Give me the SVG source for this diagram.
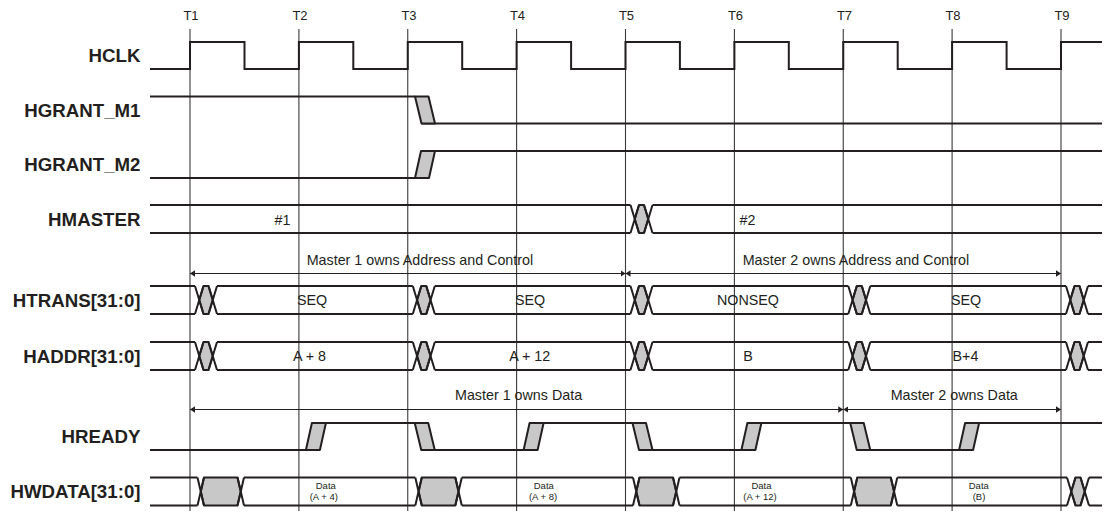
<svg xmlns="http://www.w3.org/2000/svg" xmlns:xlink="http://www.w3.org/1999/xlink" width="1109" height="514" viewBox="0 0 1109 514">
<style>
.bg{fill:#ffffff}
.grid{stroke:#3a3a3a;stroke-width:1.1;fill:none}
.sig{stroke:#231f20;stroke-width:2;fill:none;stroke-linejoin:miter}
.gr{fill:#c8c8c8;stroke:#231f20;stroke-width:2;stroke-linejoin:round}
.lbl{font-family:"Liberation Sans",Arial,sans-serif;font-weight:bold;font-size:18.7px;fill:#231f20;text-anchor:end}
.tl{font-family:"Liberation Sans",Arial,sans-serif;font-size:13px;fill:#231f20;text-anchor:middle}
.val{font-family:"Liberation Sans",Arial,sans-serif;font-size:14.3px;fill:#231f20;text-anchor:middle}
.ann{font-family:"Liberation Sans",Arial,sans-serif;font-size:14.3px;fill:#231f20}
.sm{font-family:"Liberation Sans",Arial,sans-serif;font-size:9.5px;fill:#231f20;text-anchor:middle}
.arr{stroke:#231f20;stroke-width:1.1;fill:none}
</style>
<defs>
<marker id="ah" markerUnits="userSpaceOnUse" markerWidth="6" markerHeight="7" refX="5" refY="3.25" orient="auto-start-reverse">
<path d="M0,0 L5,3.25 L0,6.5 z" fill="#231f20"/>
</marker>
<g id="xn">
<polygon class="gr" points="4.25,14 8.5,0 13.5,0 17.75,14 13.5,28 8.5,28"/>
<path class="sig" d="M0,0 L8.5,28 M0,28 L8.5,0 M13.5,0 L22,28 M13.5,28 L22,0"/>
</g>
<g id="xw">
<polygon class="gr" points="3.25,14 6.5,0 40,0 43.25,14 40,28 6.5,28"/>
<path class="sig" d="M0,0 L6.5,28 M0,28 L6.5,0 M40,0 L46.5,28 M40,28 L46.5,0"/>
</g>
<polygon id="rise" class="gr" points="7,27 21,27 27,0 13,0"/>
<polygon id="fall" class="gr" points="7,0 20.5,0 27,27 13.5,27"/>
</defs>
<rect class="bg" x="0" y="0" width="1109" height="514"/>

<g id="timeline">
<path class="grid" d="M190,29 V511 M298.9,29 V511 M407.75,29 V511 M516.6,29 V511 M625.5,29 V511 M734.4,29 V511 M843.25,29 V511 M952.1,29 V511 M1061,29 V511"/>
<text class="tl" x="191" y="20">T1</text>
<text class="tl" x="300" y="20">T2</text>
<text class="tl" x="409" y="20">T3</text>
<text class="tl" x="517.5" y="20">T4</text>
<text class="tl" x="626.5" y="20">T5</text>
<text class="tl" x="735.5" y="20">T6</text>
<text class="tl" x="844.5" y="20">T7</text>
<text class="tl" x="953" y="20">T8</text>
<text class="tl" x="1062" y="20">T9</text>
</g>

<g id="hclk">
<text class="lbl" x="140.5" y="62.2">HCLK</text>
<path class="sig" d="M150,69 H190 V42 H244.5 V69 H298.9 V42 H353.3 V69 H407.75 V42 H462.2 V69 H516.6 V42 H571.1 V69 H625.5 V42 H679.9 V69 H734.4 V42 H788.8 V69 H843.25 V42 H897.7 V69 H952.1 V42 H1006.6 V69 H1061 V42 H1102"/>
</g>

<g id="hgrant_m1">
<text class="lbl" x="140.5" y="116.7">HGRANT_M1</text>
<path class="sig" d="M150,96.5 H415 M421.5,123.5 H1102"/>
<use xlink:href="#fall" href="#fall" x="408" y="96.5"/>
</g>

<g id="hgrant_m2">
<text class="lbl" x="140.5" y="171.2">HGRANT_M2</text>
<path class="sig" d="M150,178 H415 M421,151 H1102"/>
<use xlink:href="#rise" href="#rise" x="408" y="151"/>
</g>

<g id="hmaster">
<text class="lbl" x="140.5" y="225.7">HMASTER</text>
<path class="sig" d="M150,205 H630.5 M150,233 H630.5 M652.5,205 H1102 M652.5,233 H1102"/>
<use xlink:href="#xn" href="#xn" x="630.5" y="205"/>
<text class="val" x="282.5" y="224.5">#1</text>
<text class="val" x="747.5" y="224.5">#2</text>
</g>

<g id="htrans">
<text class="lbl" x="140.5" y="306.7">HTRANS[31:0]</text>
<path class="sig" d="M150,286 H195 M217,286 H412.8 M434.8,286 H630.5 M652.5,286 H848.3 M870.3,286 H1066 M1088,286 H1102 M150,314 H195 M217,314 H412.8 M434.8,314 H630.5 M652.5,314 H848.3 M870.3,314 H1066 M1088,314 H1102"/>
<use xlink:href="#xn" href="#xn" x="195" y="286"/>
<use xlink:href="#xn" href="#xn" x="412.8" y="286"/>
<use xlink:href="#xn" href="#xn" x="630.5" y="286"/>
<use xlink:href="#xn" href="#xn" x="848.3" y="286"/>
<use xlink:href="#xn" href="#xn" x="1066" y="286"/>
<text class="val" x="312" y="305">SEQ</text>
<text class="val" x="530" y="305">SEQ</text>
<text class="val" x="748" y="305">NONSEQ</text>
<text class="val" x="966" y="305">SEQ</text>
</g>

<g id="haddr">
<text class="lbl" x="140.5" y="362.7">HADDR[31:0]</text>
<path class="sig" d="M150,342 H195 M217,342 H412.8 M434.8,342 H630.5 M652.5,342 H848.3 M870.3,342 H1066 M1088,342 H1102 M150,370 H195 M217,370 H412.8 M434.8,370 H630.5 M652.5,370 H848.3 M870.3,370 H1066 M1088,370 H1102"/>
<use xlink:href="#xn" href="#xn" x="195" y="342"/>
<use xlink:href="#xn" href="#xn" x="412.8" y="342"/>
<use xlink:href="#xn" href="#xn" x="630.5" y="342"/>
<use xlink:href="#xn" href="#xn" x="848.3" y="342"/>
<use xlink:href="#xn" href="#xn" x="1066" y="342"/>
<text class="val" x="309.5" y="361">A + 8</text>
<text class="val" x="529.7" y="361">A + 12</text>
<text class="val" x="748" y="361">B</text>
<text class="val" x="965.5" y="361">B+4</text>
</g>

<g id="hready">
<text class="lbl" x="140.5" y="443.2">HREADY</text>
<path class="sig" d="M150,450 H306 M312,423 H415 M421.5,450 H523.6 M529.6,423 H632.5 M639,450 H741.4 M747.4,423 H850.25 M856.75,450 H959.1 M965.1,423 H1102"/>
<use xlink:href="#rise" href="#rise" x="298.9" y="423"/>
<use xlink:href="#fall" href="#fall" x="407.75" y="423"/>
<use xlink:href="#rise" href="#rise" x="516.6" y="423"/>
<use xlink:href="#fall" href="#fall" x="625.5" y="423"/>
<use xlink:href="#rise" href="#rise" x="734.4" y="423"/>
<use xlink:href="#fall" href="#fall" x="843.25" y="423"/>
<use xlink:href="#rise" href="#rise" x="952.1" y="423"/>
</g>

<g id="hwdata">
<text class="lbl" x="140.5" y="498.2">HWDATA[31:0]</text>
<path class="sig" d="M150,477.5 H197.5 M244,477.5 H415.3 M461.8,477.5 H633 M679.5,477.5 H850.8 M897.3,477.5 H1067 M1089,477.5 H1102 M150,505.5 H197.5 M244,505.5 H415.3 M461.8,505.5 H633 M679.5,505.5 H850.8 M897.3,505.5 H1067 M1089,505.5 H1102"/>
<use xlink:href="#xw" href="#xw" x="197.5" y="477.5"/>
<use xlink:href="#xw" href="#xw" x="415.3" y="477.5"/>
<use xlink:href="#xw" href="#xw" x="633" y="477.5"/>
<use xlink:href="#xw" href="#xw" x="850.8" y="477.5"/>
<use xlink:href="#xn" href="#xn" x="1067" y="477.5"/>
<text class="sm" x="325.8" y="488.5">Data</text>
<text class="sm" x="323.8" y="500">(A + 4)</text>
<text class="sm" x="543.8" y="488.5">Data</text>
<text class="sm" x="543" y="500">(A + 8)</text>
<text class="sm" x="761.5" y="488.5">Data</text>
<text class="sm" x="760" y="500">(A + 12)</text>
<text class="sm" x="978.8" y="488.5">Data</text>
<text class="sm" x="979" y="500">(B)</text>
</g>

<g id="connectors">
<line class="arr" x1="190" y1="273.5" x2="625.5" y2="273.5" marker-start="url(#ah)" marker-end="url(#ah)"/>
<line class="arr" x1="625.5" y1="273.5" x2="1061" y2="273.5" marker-start="url(#ah)" marker-end="url(#ah)"/>
<line class="arr" x1="190" y1="409.5" x2="843.25" y2="409.5" marker-start="url(#ah)" marker-end="url(#ah)"/>
<line class="arr" x1="843.25" y1="409.5" x2="1061" y2="409.5" marker-start="url(#ah)" marker-end="url(#ah)"/>
<text class="ann" x="306.7" y="265">Master 1 owns Address and Control</text>
<text class="ann" x="742.7" y="265">Master 2 owns Address and Control</text>
<text class="ann" x="455" y="400">Master 1 owns Data</text>
<text class="ann" x="890.7" y="400">Master 2 owns Data</text>
</g>
</svg>
